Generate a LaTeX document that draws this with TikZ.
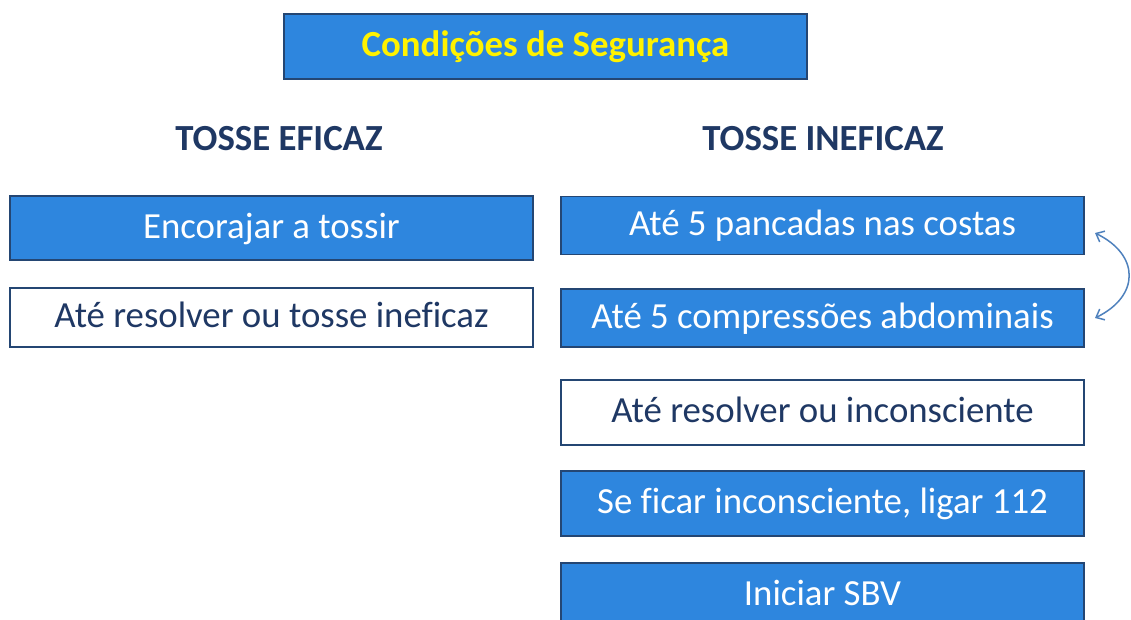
\documentclass[tikz,border=0pt]{standalone}
\usepackage{fontspec}
\setmainfont{Carlito}[Ligatures=NoCommon]
\usetikzlibrary{arrows.meta}
\definecolor{boxblue}{RGB}{46,134,222}
\definecolor{boxedge}{RGB}{36,70,115}
\definecolor{navy}{RGB}{31,56,100}
\definecolor{arrowblue}{RGB}{79,129,189}
\tikzset{
  bluebox/.style={draw=boxedge,line width=1.2pt,fill=boxblue,text=white,
    minimum width=523pt,text height=26.5pt,text depth=6.5pt,
    font=\fontsize{36.8}{44}\selectfont},
  whitebox/.style={bluebox,fill=white,text=navy},
  heading/.style={text=navy,font=\bfseries\fontsize{36.8}{44}\selectfont}
}
\begin{document}
\begin{tikzpicture}[x=1pt,y=-1pt]
\useasboundingbox (0,0) rectangle (1131,619);
\node[bluebox,minimum height=65pt,text=yellow,font=\bfseries\fontsize{36.8}{44}\selectfont] (titulo) at (545.5,46.5) {Condições de Segurança}; % titulo
\node[heading] (eficaz) at (279,139) {TOSSE EFICAZ};
\node[heading] (ineficaz) at (823,139) {TOSSE INEFICAZ};
% tosse eficaz
\node[bluebox,minimum height=64pt] (encorajar) at (271.5,228) {Encorajar a tossir};
\node[whitebox,minimum height=59pt] (resolverA) at (271.5,317.5) {Até resolver ou tosse ineficaz};
% tosse ineficaz
\node[bluebox,minimum height=58pt] (pancadas) at (822.5,225.5) {Até 5 pancadas nas costas};
\node[bluebox,minimum height=58pt] (compressoes) at (822.5,318) {Até 5 compressões abdominais};
\node[whitebox,minimum height=65pt] (resolverB) at (822.5,412.5) {Até resolver ou inconsciente};
\node[bluebox,minimum height=65pt] (ligar) at (822.5,503.5) {Se ficar inconsciente, ligar 112};
\node[bluebox,minimum height=65pt] (sbv) at (822.5,595.5) {Iniciar SBV};
% alternar pancadas / compressoes
\coordinate (topo) at (1095,233);
\coordinate (base) at (1095,318);
\draw[arrowblue,line width=1.5pt,{Straight Barb[length=7pt,width=12pt]}-{Straight Barb[length=7pt,width=12pt]}]
  (topo) .. controls (1140,255) and (1140,296) .. (base);
\end{tikzpicture}
\end{document}
